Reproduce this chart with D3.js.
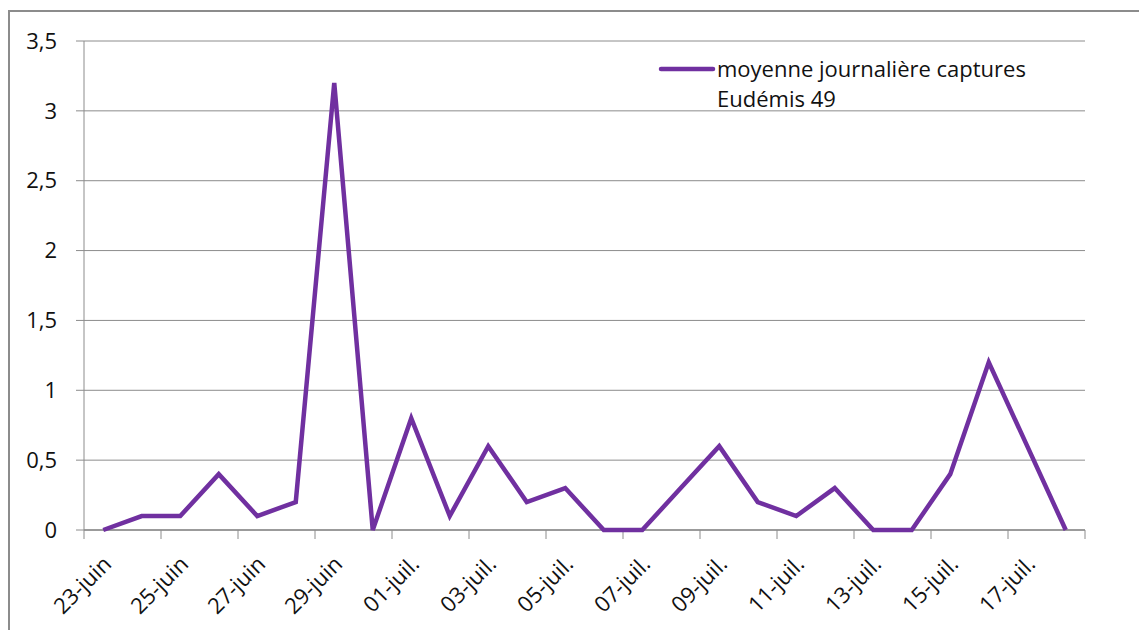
<!DOCTYPE html>
<html>
<head>
<meta charset="utf-8">
<script src="https://d3js.org/d3.v7.min.js"></script>
<style>
  body { margin: 0; background: #fff; }
  svg { display: block; font-family: "Open Sans", "Noto Sans", sans-serif; }
</style>
</head>
<body>
<div id="chart"></div>
<script>
// données
const dates = ["23-juin", "24-juin", "25-juin", "26-juin", "27-juin", "28-juin", "29-juin", "30-juin",
    "01-juil.", "02-juil.", "03-juil.", "04-juil.", "05-juil.", "06-juil.", "07-juil.", "08-juil.",
    "09-juil.", "10-juil.", "11-juil.", "12-juil.", "13-juil.", "14-juil.", "15-juil.", "16-juil.",
    "17-juil.", "18-juil."];
const captures = [0, 0.1, 0.1, 0.4, 0.1, 0.2, 3.2, 0, 0.8, 0.1, 0.6, 0.2, 0.3, 0, 0, 0.3,
    0.6, 0.2, 0.1, 0.3, 0, 0, 0.4, 1.2, 0.6, 0];
const yTicks = [0, 0.5, 1, 1.5, 2, 2.5, 3, 3.5];
const seriesName = ["moyenne journalière captures", "Eudémis 49"];

const W = 1139, H = 630;
const margin = {top: 41, right: 54, left: 84};
const width = W - margin.left - margin.right;
const plotH = 530 - margin.top;
const textColor = "#111";

const svg = d3.select("#chart").append("svg")
    .attr("width", W)
    .attr("height", H);

// cadre
svg.append("rect")
    .attr("x", 9).attr("y", 11)
    .attr("width", W + 20).attr("height", H + 20)
    .attr("fill", "none")
    .attr("stroke", "#8c8c8c")
    .attr("stroke-width", 2);

const g = svg.append("g")
    .attr("transform", `translate(${margin.left},${margin.top})`);

const x = d3.scaleBand()
    .domain(dates)
    .range([0, width]);

const y = d3.scaleLinear()
    .domain([0, 3.5])
    .range([plotH, 0]);

const fmt = d => d3.format(".1~f")(d).replace(".", ",");

// grille horizontale
g.append("g")
    .selectAll("line")
    .data(yTicks)
    .join("line")
    .attr("x1", -8)
    .attr("x2", width)
    .attr("y1", d => y(d))
    .attr("y2", d => y(d))
    .attr("stroke", "#8c8c8c")
    .attr("stroke-width", 1);

// axe Y
g.append("line")
    .attr("x1", 0).attr("x2", 0)
    .attr("y1", 0).attr("y2", plotH)
    .attr("stroke", "#8c8c8c");

g.append("g")
    .selectAll("text")
    .data(yTicks)
    .join("text")
    .attr("x", -27)
    .attr("y", d => y(d))
    .attr("dy", "0.35em")
    .attr("text-anchor", "end")
    .attr("font-size", 22)
    .attr("fill", textColor)
    .text(fmt);

// axe X
g.append("line")
    .attr("x1", 0).attr("x2", width)
    .attr("y1", plotH).attr("y2", plotH)
    .attr("stroke", "#8c8c8c")
    .attr("stroke-width", 1.5);

const tickDates = dates.filter((d, i) => i % 2 === 0);
g.append("g")
    .selectAll("line")
    .data(tickDates.concat(["end"]))
    .join("line")
    .attr("x1", d => d === "end" ? width : x(d))
    .attr("x2", d => d === "end" ? width : x(d))
    .attr("y1", plotH)
    .attr("y2", plotH + 9)
    .attr("stroke", "#8c8c8c");

g.append("g")
    .selectAll("text")
    .data(tickDates)
    .join("text")
    .attr("transform", d => `translate(${x(d) + x.bandwidth() / 2 + 4},${plotH + 30}) rotate(-45)`)
    .attr("text-anchor", "end")
    .attr("dy", "0.35em")
    .attr("font-size", 22)
    .attr("fill", textColor)
    .text(d => d);

// courbe
const line = d3.line()
    .x((d, i) => x(dates[i]) + x.bandwidth() / 2)
    .y(d => y(d));

g.append("path")
    .datum(captures)
    .attr("d", line)
    .attr("fill", "none")
    .attr("stroke", "#7030a0")
    .attr("stroke-width", 4.5)
    .attr("stroke-linejoin", "miter");

// légende
const leg = svg.append("g").attr("transform", "translate(661,69)");
leg.append("line")
    .attr("x1", 0).attr("x2", 52)
    .attr("y1", 0).attr("y2", 0)
    .attr("stroke", "#7030a0")
    .attr("stroke-width", 4.5)
    .attr("stroke-linecap", "round");
leg.selectAll("text")
    .data(seriesName)
    .join("text")
    .attr("x", 56)
    .attr("y", (d, i) => 8 + i * 30)
    .attr("font-size", 22)
    .attr("fill", textColor)
    .text(d => d);
</script>
</body>
</html>
